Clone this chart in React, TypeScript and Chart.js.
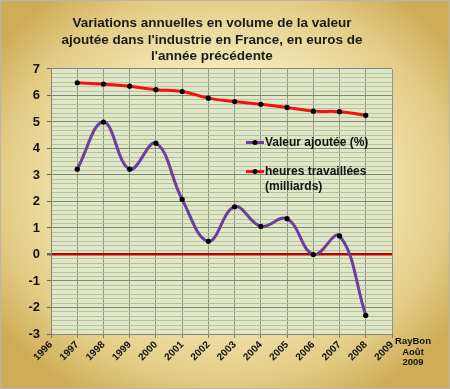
import React, { useEffect, useRef } from "react";
import { Chart, registerables } from "chart.js";

Chart.register(...registerables);

// ---- data ----
const years = [1997, 1998, 1999, 2000, 2001, 2002, 2003, 2004, 2005, 2006, 2007, 2008];
const valeurAjoutee = [3.22, 5.0, 3.22, 4.2, 2.08, 0.5, 1.8, 1.06, 1.35, 0.0, 0.7, -2.3];
const heuresTravaillees = [6.48, 6.43, 6.35, 6.22, 6.15, 5.9, 5.77, 5.67, 5.55, 5.41, 5.39, 5.25];
const xMin = 1996;
const xMax = 2009;
const yMin = -3;
const yMax = 7;
const titleLines = [
  "Variations annuelles en volume de la valeur",
  "ajoutée dans l'industrie en France, en euros de",
  "l'année précédente",
];
const legendValeur = ["Valeur ajoutée (%)"];
const legendHeures = ["heures travaillées", "(milliards)"];
const noteLines = ["RayBon", "Août", "2009"];

const FONT = "'Liberation Sans', Arial, sans-serif";
const PURPLE = "#6a3f9e";
const RED = "#f21212";

const plotBgPlugin = {
  id: "plotBg",
  beforeDraw(chart: any) {
    const { ctx, chartArea } = chart;
    ctx.save();
    ctx.fillStyle = "#dfe7c6";
    ctx.fillRect(chartArea.left, chartArea.top, chartArea.right - chartArea.left, chartArea.bottom - chartArea.top);
    ctx.restore();
  },
};

const overlayPlugin = {
  id: "overlay",
  afterDraw(chart: any) {
    const { ctx, chartArea } = chart;
    ctx.save();
    const drawSample = (x: number, y: number, color: string) => {
      ctx.strokeStyle = color;
      ctx.lineWidth = 3;
      ctx.beginPath();
      ctx.moveTo(x, y);
      ctx.lineTo(x + 18, y);
      ctx.stroke();
      ctx.fillStyle = "#000";
      ctx.beginPath();
      ctx.arc(x + 9, y, 2.5, 0, Math.PI * 2);
      ctx.fill();
    };
    const lx = chartArea.left + 195;
    const y1 = chartArea.top + 73.5;
    const y2 = chartArea.top + 102.5;
    drawSample(lx, y1, PURPLE);
    drawSample(lx, y2, RED);
    ctx.fillStyle = "#111";
    ctx.font = `bold 12px ${FONT}`;
    ctx.textAlign = "left";
    ctx.textBaseline = "middle";
    legendValeur.forEach((t, i) => ctx.fillText(t, lx + 19, y1 + i * 15.5));
    legendHeures.forEach((t, i) => ctx.fillText(t, lx + 19, y2 + i * 15.5));
    ctx.font = `bold 9.5px 'Liberation Sans Narrow', ${FONT}`;
    ctx.textAlign = "center";
    noteLines.forEach((t, i) => ctx.fillText(t, chartArea.right + 21, chartArea.bottom + 7.5 + i * 10.5));
    ctx.restore();
  },
};

export default function App() {
  const ref = useRef<HTMLCanvasElement | null>(null);

  useEffect(() => {
    if (!ref.current) return;
    Chart.defaults.font.family = FONT;
    const chart = new Chart(ref.current, {
      type: "line",
      data: {
        datasets: [
          {
            label: legendValeur.join(" "),
            data: years.map((x, i) => ({ x, y: valeurAjoutee[i] })),
            borderColor: PURPLE,
            borderWidth: 3,
            tension: 0.4,
            pointRadius: 2.6,
            pointBackgroundColor: "#000",
            pointBorderColor: "#000",
            pointBorderWidth: 0,
            fill: false,
          },
          {
            label: legendHeures.join(" "),
            data: years.map((x, i) => ({ x, y: heuresTravaillees[i] })),
            borderColor: RED,
            borderWidth: 3,
            tension: 0.4,
            pointRadius: 2.6,
            pointBackgroundColor: "#000",
            pointBorderColor: "#000",
            pointBorderWidth: 0,
            fill: false,
          },
        ],
      },
      options: {
        responsive: false,
        animation: false,
        layout: { padding: { left: 0, right: 26, top: 0, bottom: 0 } },
        plugins: {
          legend: { display: false },
          tooltip: { enabled: false },
          title: {
            display: true,
            text: titleLines,
            color: "#1a1a1a",
            font: { size: 13.5, weight: "bold", family: FONT, lineHeight: 1.222 },
            padding: { top: 15.5, bottom: 4 },
          },
        },
        scales: {
          x: {
            type: "linear",
            min: xMin,
            max: xMax,
            afterFit(scale: any) {
              scale.height = 55;
            },
            ticks: {
              stepSize: 1,
              autoSkip: false,
              maxRotation: 45,
              minRotation: 45,
              padding: 1,
              color: "#111",
              font: { size: 10, weight: "bold", family: FONT },
              callback: (v: any) => String(v),
            },
            grid: { color: "#8d9687", lineWidth: 1, tickLength: 4, tickColor: "#777" },
            border: { display: true, color: "#7d8677", width: 1 },
          },
          yMinor: {
            type: "linear",
            position: "left",
            min: yMin,
            max: yMax,
            z: -1,
            afterFit(scale: any) {
              scale.width = 0;
            },
            ticks: { stepSize: 1 / 6, display: false },
            grid: { color: "#b7c2a2", lineWidth: 1, drawTicks: false },
            border: { display: false },
          },
          y: {
            type: "linear",
            position: "left",
            min: yMin,
            max: yMax,
            afterFit(scale: any) {
              scale.width = 51;
            },
            ticks: {
              stepSize: 1,
              padding: 7,
              color: "#111",
              font: { size: 13, weight: "bold", family: FONT },
            },
            grid: {
              color: (c: any) => (c.tick && c.tick.value === 0 ? "#c00000" : "#7e8a76"),
              lineWidth: (c: any) => (c.tick && c.tick.value === 0 ? 2.5 : 1),
              tickLength: 4,
              tickColor: "#666",
            },
            border: { display: true, color: "#7d8677", width: 1 },
          },
          yRight: {
            type: "linear",
            position: "right",
            min: yMin,
            max: yMax,
            afterFit(scale: any) {
              scale.width = 32;
            },
            ticks: { display: false },
            grid: { display: false, drawTicks: false },
            border: { display: false },
          },
        },
      },
      plugins: [plotBgPlugin, overlayPlugin],
    } as any);
    return () => chart.destroy();
  }, []);

  return (
    <div
      style={{
        position: "fixed",
        left: 0,
        top: 0,
        width: 450,
        height: 389,
        boxSizing: "border-box",
        border: "1px solid #b9b7ad",
        background:
          "radial-gradient(ellipse 62% 62% at 50% 48%, #fbf6dc 0%, #f3e8b8 50%, #e3cd86 80%, #cfad58 100%)",
        overflow: "hidden",
      }}
    >
      <canvas ref={ref} width={450} height={389} style={{ position: "absolute", left: -1, top: -1 }} />
    </div>
  );
}
